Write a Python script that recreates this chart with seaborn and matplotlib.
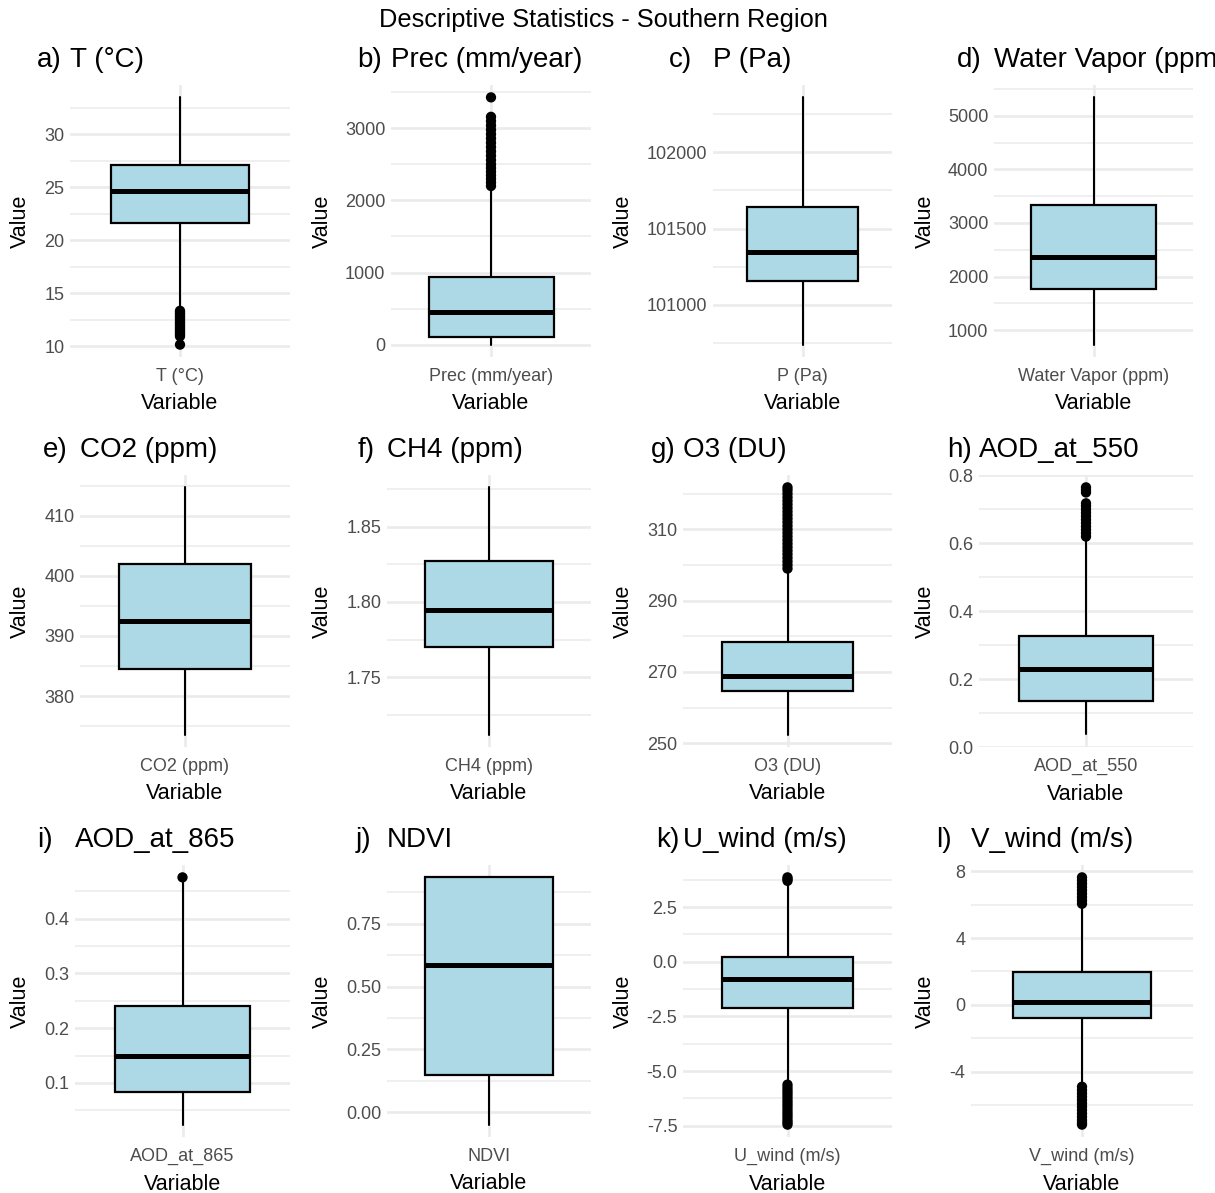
import numpy as np
import matplotlib.pyplot as plt
import seaborn as sns
from matplotlib.ticker import AutoMinorLocator

sns.set_theme(style="whitegrid")
plt.rcParams['font.family'] = ['Liberation Sans', 'DejaVu Sans']
plt.rcParams['text.color'] = 'black'
plt.rcParams['axes.labelcolor'] = 'black'

# ---- data ----
panel_tags = ['a)', 'b)', 'c)', 'd)', 'e)', 'f)', 'g)', 'h)', 'i)', 'j)', 'k)', 'l)']
variables = ['T (°C)', 'Prec (mm/year)', 'P (Pa)', 'Water Vapor (ppm)',
             'CO2 (ppm)', 'CH4 (ppm)', 'O3 (DU)', 'AOD_at_550',
             'AOD_at_865', 'NDVI', 'U_wind (m/s)', 'V_wind (m/s)']

q1 = [21.58, 106, 101156, 1771, 384.5, 1.7698, 264.6, 0.1355, 0.083, 0.147, -2.10, -0.78]
median = [24.65, 446, 101344, 2375, 392.5, 1.7944, 268.9, 0.2287, 0.1487, 0.5857, -0.78, 0.20]
q3 = [27.06, 943, 101642, 3339, 401.97, 1.8273, 278.4, 0.327, 0.240, 0.934, 0.21, 1.99]
whisker_low = [13.45, 0, 100737, 732, 373.6, 1.7116, 252.4, 0.0373, 0.0239, -0.049, -5.57, -4.85]
whisker_high = [33.47, 2190, 102362, 5342, 414.7, 1.8764, 298.8, 0.612, 0.468, 0.934, 3.66, 6.00]

outliers = [
    [10.16, 10.95, 11.1, 11.25, 11.4, 11.55, 11.7, 11.85, 12.0, 12.15, 12.3,
     12.45, 12.6, 12.75, 12.9, 13.05, 13.2, 13.35],
    [2200, 2250, 2300, 2350, 2400, 2450, 2500, 2560, 2620, 2680, 2740, 2800,
     2860, 2920, 2980, 3040, 3100, 3160, 3430],
    [],
    [],
    [],
    [],
    [299.0, 300.0, 301.0, 302.0, 303.0, 304.0, 305.0, 306.0, 307.0, 308.0, 309.0,
     310.0, 311.0, 312.0, 313.0, 314.0, 315.0, 316.0, 317.0, 318.0, 319.0, 320.0,
     321.0, 321.8],
    [0.62, 0.63, 0.64, 0.65, 0.66, 0.67, 0.68, 0.69, 0.70, 0.71, 0.718,
     0.75, 0.758, 0.765],
    [0.4755],
    [],
    [3.70, 3.78, 3.86, -5.62, -5.75, -5.88, -6.0, -6.12, -6.25, -6.38, -6.5,
     -6.62, -6.75, -6.88, -7.0, -7.12, -7.25, -7.35, -7.45],
    [6.05, 6.25, 6.45, 6.65, 6.85, 7.05, 7.25, 7.45, 7.63, -4.9, -5.1, -5.3,
     -5.5, -5.7, -5.9, -6.1, -6.3, -6.5, -6.7, -6.9, -7.05, -7.17],
]

yticks = [
    [10, 15, 20, 25, 30], [0, 1000, 2000, 3000], [101000, 101500, 102000],
    [1000, 2000, 3000, 4000, 5000], [380, 390, 400, 410], [1.75, 1.80, 1.85],
    [250, 270, 290, 310], [0.0, 0.2, 0.4, 0.6, 0.8], [0.1, 0.2, 0.3, 0.4],
    [0.0, 0.25, 0.5, 0.75], [-7.5, -5.0, -2.5, 0.0, 2.5], [-4, 0, 4, 8],
]
ytick_labels = [
    ['10', '15', '20', '25', '30'], ['0', '1000', '2000', '3000'],
    ['101000', '101500', '102000'], ['1000', '2000', '3000', '4000', '5000'],
    ['380', '390', '400', '410'], ['1.75', '1.80', '1.85'],
    ['250', '270', '290', '310'], ['0.0', '0.2', '0.4', '0.6', '0.8'],
    ['0.1', '0.2', '0.3', '0.4'], ['0.00', '0.25', '0.50', '0.75'],
    ['-7.5', '-5.0', '-2.5', '0.0', '2.5'], ['-4', '0', '4', '8'],
]

# ---- layout (pixels in a 1215 x 1193 canvas) ----
W, H = 1215, 1193
panel_left = [70, 391, 713, 994, 80, 387, 683, 979, 75, 387, 683, 971]
col_right = [290, 591, 892, 1193]
row_top = [85, 475, 865]
row_bottom = [357, 747, 1137]
tag_x = [37, 357, 669, 957, 43, 358, 651, 947, 37, 356, 656, 936]
title_base = [67, 457, 847]
ylabel_x = [20, 322, 623, 925]

fig = plt.figure(figsize=(W / 100, H / 100), dpi=100)
fig.patch.set_facecolor('white')

grid_col = '#EBEBEB'
tick_col = '#4D4D4D'

for i, var in enumerate(variables):
    r, c = divmod(i, 4)
    left, right = panel_left[i], col_right[c]
    top, bottom = row_top[r], row_bottom[r]
    ax = fig.add_axes([left / W, 1 - bottom / H, (right - left) / W, (bottom - top) / H])
    ax.set_facecolor('white')
    for s in ax.spines.values():
        s.set_visible(False)

    stats = [dict(med=median[i], q1=q1[i], q3=q3[i],
                  whislo=whisker_low[i], whishi=whisker_high[i], fliers=[])]
    ax.bxp(stats, positions=[0], widths=0.75, patch_artist=True,
           showfliers=False, showcaps=False, manage_ticks=False,
           boxprops=dict(facecolor='#ADD8E6', edgecolor='black', linewidth=1.6),
           medianprops=dict(color='black', linewidth=3.6, solid_capstyle='butt'),
           whiskerprops=dict(color='black', linewidth=1.5))

    if outliers[i]:
        sns.scatterplot(x=[0] * len(outliers[i]), y=outliers[i], ax=ax,
                        color='black', s=55, edgecolor='none', zorder=4)

    lo = min([whisker_low[i]] + outliers[i])
    hi = max([whisker_high[i]] + outliers[i])
    pad = 0.05 * (hi - lo)
    ax.set_ylim(lo - pad, hi + pad)
    ax.set_xlim(-0.6, 0.6)

    ax.set_yticks(yticks[i])
    ax.set_yticklabels(ytick_labels[i])
    ax.yaxis.set_minor_locator(AutoMinorLocator(2))
    ax.set_xticks([0])
    ax.set_xticklabels([var])
    ax.tick_params(axis='both', which='both', length=0, labelsize=13,
                   labelcolor=tick_col)
    ax.tick_params(axis='y', pad=4)
    ax.tick_params(axis='x', pad=8)

    ax.grid(True, which='major', axis='both', color=grid_col, linewidth=1.9)
    ax.grid(True, which='minor', axis='y', color=grid_col, linewidth=1.1)
    ax.set_axisbelow(True)

    ax.set_xlabel('Variable', fontsize=15.5, color='black', labelpad=6)
    ax.set_ylabel('Value', fontsize=15.5, color='black')
    ax.yaxis.label.set_va('center')
    ax.yaxis.set_label_coords((ylabel_x[c] - left) / (right - left), 0.5)

    fig.text(tag_x[i] / W, 1 - title_base[r] / H, panel_tags[i],
             fontsize=20, va='baseline', ha='left', color='black')
    fig.text(left / W, 1 - title_base[r] / H, var,
             fontsize=20, va='baseline', ha='left', color='black')

fig.text(603 / W, 1 - 27 / H, 'Descriptive Statistics - Southern Region',
         fontsize=18.3, ha='center', va='baseline', color='black')

plt.savefig('out.png', dpi=100)
